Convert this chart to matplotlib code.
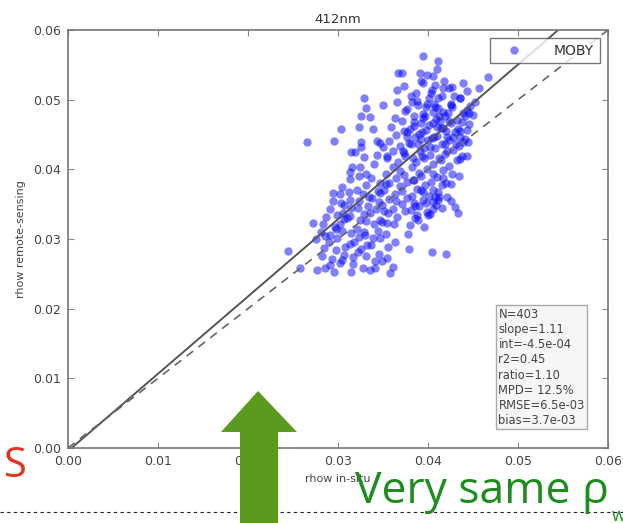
import matplotlib.pyplot as plt
from matplotlib.lines import Line2D
from matplotlib.patches import Polygon

core_pts = [
    (0.0373, 0.0519), (0.0387, 0.0509), (0.0394, 0.0524), (0.0404, 0.0514), (0.0411, 0.0503), (0.0423, 0.0517), (0.0429, 0.0506), (0.0443, 0.0513),
    (0.0366, 0.0497), (0.0381, 0.0505), (0.0389, 0.0492), (0.0401, 0.0502), (0.0408, 0.0489), (0.0416, 0.0506), (0.0425, 0.0494), (0.0436, 0.0503), (0.0447, 0.0491),
    (0.0374, 0.0484), (0.0382, 0.0497), (0.0394, 0.0479), (0.0399, 0.0494), (0.0411, 0.0488), (0.0419, 0.0477), (0.0427, 0.0489), (0.0439, 0.0481),
    (0.0363, 0.0473), (0.0377, 0.0486), (0.0385, 0.0468), (0.0397, 0.0476), (0.0405, 0.0482), (0.0413, 0.0469), (0.0422, 0.0481), (0.0432, 0.0471), (0.0441, 0.0477),
    (0.0359, 0.0461), (0.0371, 0.0470), (0.0380, 0.0458), (0.0392, 0.0466), (0.0398, 0.0457), (0.0409, 0.0472), (0.0417, 0.0460), (0.0425, 0.0467), (0.0436, 0.0455), (0.0446, 0.0465),
    (0.0365, 0.0449), (0.0373, 0.0455), (0.0386, 0.0446), (0.0393, 0.0453), (0.0404, 0.0445), (0.0410, 0.0461), (0.0421, 0.0447), (0.0430, 0.0453), (0.0441, 0.0444),
    (0.0357, 0.0440), (0.0369, 0.0433), (0.0377, 0.0446), (0.0389, 0.0437), (0.0396, 0.0431), (0.0407, 0.0446), (0.0415, 0.0436), (0.0423, 0.0442), (0.0434, 0.0433), (0.0444, 0.0439),
    (0.0361, 0.0427), (0.0373, 0.0424), (0.0381, 0.0436), (0.0391, 0.0426), (0.0402, 0.0420), (0.0408, 0.0431), (0.0419, 0.0422), (0.0428, 0.0428), (0.0438, 0.0419),
    (0.0355, 0.0416), (0.0367, 0.0410), (0.0375, 0.0419), (0.0387, 0.0411), (0.0396, 0.0417), (0.0405, 0.0408), (0.0414, 0.0414), (0.0423, 0.0405), (0.0432, 0.0413),
    (0.0361, 0.0403), (0.0369, 0.0398), (0.0382, 0.0404), (0.0390, 0.0395), (0.0399, 0.0401), (0.0406, 0.0393), (0.0417, 0.0399), (0.0427, 0.0394),
    (0.0353, 0.0394), (0.0365, 0.0388), (0.0373, 0.0392), (0.0385, 0.0384), (0.0392, 0.0390), (0.0403, 0.0382), (0.0410, 0.0389), (0.0420, 0.0381), (0.0434, 0.0391),
    (0.0357, 0.0381), (0.0369, 0.0376), (0.0377, 0.0382), (0.0388, 0.0372), (0.0397, 0.0378), (0.0406, 0.0371), (0.0416, 0.0377), (0.0426, 0.0379),
    (0.0351, 0.0371), (0.0363, 0.0365), (0.0371, 0.0369), (0.0382, 0.0362), (0.0392, 0.0371), (0.0401, 0.0362), (0.0411, 0.0367), (0.0421, 0.0361),
    (0.0357, 0.0358), (0.0365, 0.0354), (0.0377, 0.0359), (0.0384, 0.0351), (0.0395, 0.0356), (0.0405, 0.0353), (0.0412, 0.0360), (0.0425, 0.0355),
    (0.0349, 0.0349), (0.0361, 0.0343), (0.0371, 0.0350), (0.0381, 0.0341), (0.0390, 0.0347), (0.0399, 0.0339), (0.0409, 0.0349),
    (0.0356, 0.0338), (0.0366, 0.0331), (0.0375, 0.0340), (0.0386, 0.0330), (0.0402, 0.0336),
    (0.0347, 0.0327), (0.0362, 0.0322), (0.0380, 0.0320), (0.0396, 0.0317),
    (0.0388, 0.0498), (0.0398, 0.0489), (0.0407, 0.0494), (0.0417, 0.0482), (0.0426, 0.0493), (0.0385, 0.0462),
    (0.0395, 0.0474), (0.0405, 0.0466), (0.0414, 0.0459), (0.0423, 0.0469), (0.0433, 0.0458), (0.0379, 0.0438),
    (0.0390, 0.0451), (0.0400, 0.0442), (0.0410, 0.0448), (0.0419, 0.0437), (0.0428, 0.0446), (0.0383, 0.0416),
    (0.0393, 0.0419), (0.0402, 0.0432), (0.0412, 0.0417), (0.0421, 0.0426), (0.0436, 0.0415), (0.0372, 0.0427),
    (0.0377, 0.0453), (0.0403, 0.0509), (0.0392, 0.0527), (0.0418, 0.0527), (0.0436, 0.0502), (0.0445, 0.0481),
    (0.0384, 0.0476), (0.0392, 0.0443), (0.0412, 0.0477), (0.0420, 0.0455), (0.0401, 0.0463), (0.0431, 0.0437),
]

mid_pts = [
    (0.0316, 0.0403), (0.0331, 0.0393), (0.0340, 0.0407),
    (0.0313, 0.0386), (0.0323, 0.0391), (0.0337, 0.0387), (0.0347, 0.0381),
    (0.0304, 0.0375), (0.0321, 0.0371), (0.0331, 0.0378), (0.0345, 0.0369),
    (0.0302, 0.0365), (0.0312, 0.0367), (0.0328, 0.0364), (0.0338, 0.0359),
    (0.0295, 0.0354), (0.0307, 0.0349), (0.0323, 0.0355), (0.0333, 0.0347), (0.0346, 0.0353),
    (0.0291, 0.0343), (0.0306, 0.0338), (0.0315, 0.0345), (0.0329, 0.0336), (0.0342, 0.0343),
    (0.0287, 0.0332), (0.0299, 0.0335), (0.0313, 0.0333), (0.0324, 0.0327), (0.0336, 0.0337), (0.0349, 0.0324),
    (0.0283, 0.0321), (0.0297, 0.0317), (0.0307, 0.0329), (0.0321, 0.0315), (0.0331, 0.0326), (0.0345, 0.0312), (0.0355, 0.0323),
    (0.0281, 0.0310), (0.0291, 0.0306), (0.0305, 0.0312), (0.0315, 0.0309), (0.0329, 0.0310), (0.0339, 0.0302), (0.0353, 0.0307),
    (0.0276, 0.0300), (0.0290, 0.0296), (0.0299, 0.0301), (0.0313, 0.0293), (0.0323, 0.0303), (0.0337, 0.0291), (0.0347, 0.0301), (0.0363, 0.0295),
    (0.0284, 0.0287), (0.0298, 0.0284), (0.0308, 0.0289), (0.0322, 0.0281), (0.0332, 0.0291), (0.0346, 0.0279), (0.0356, 0.0289),
    (0.0282, 0.0276), (0.0293, 0.0271), (0.0307, 0.0277), (0.0317, 0.0274), (0.0331, 0.0275), (0.0341, 0.0268), (0.0355, 0.0273),
    (0.0291, 0.0263), (0.0302, 0.0265), (0.0317, 0.0264), (0.0328, 0.0259), (0.0349, 0.0268),
    (0.0296, 0.0253), (0.0314, 0.0252), (0.0336, 0.0256),
    (0.0310, 0.0330), (0.0322, 0.0344), (0.0334, 0.0360), (0.0318, 0.0296), (0.0330, 0.0306), (0.0302, 0.0322),
    (0.0326, 0.0285), (0.0340, 0.0322), (0.0313, 0.0356), (0.0286, 0.0305), (0.0298, 0.0314), (0.0351, 0.0340),
    (0.0347, 0.0366), (0.0353, 0.0379),
]

edge_pts = [
    (0.0367, 0.0539), (0.0366, 0.0514), (0.0329, 0.0502), (0.0331, 0.0488), (0.0350, 0.0492), (0.0326, 0.0476),
    (0.0336, 0.0475), (0.0303, 0.0458), (0.0323, 0.0461), (0.0339, 0.0458), (0.0266, 0.0439), (0.0296, 0.0440),
    (0.0326, 0.0439), (0.0326, 0.0432), (0.0343, 0.0440), (0.0347, 0.0438), (0.0350, 0.0432), (0.0314, 0.0425),
    (0.0319, 0.0425), (0.0329, 0.0418), (0.0343, 0.0420), (0.0354, 0.0419),
    (0.0394, 0.0562), (0.0411, 0.0555), (0.0410, 0.0544), (0.0371, 0.0539), (0.0391, 0.0539), (0.0399, 0.0535),
    (0.0406, 0.0534), (0.0467, 0.0532), (0.0408, 0.0521), (0.0417, 0.0517), (0.0427, 0.0518), (0.0439, 0.0524),
    (0.0457, 0.0517), (0.0452, 0.0496), (0.0443, 0.0485), (0.0450, 0.0478), (0.0438, 0.0468), (0.0443, 0.0456),
    (0.0436, 0.0446), (0.0439, 0.0439), (0.0443, 0.0419),
    (0.0313, 0.0396), (0.0324, 0.0403), (0.0294, 0.0366), (0.0303, 0.0352), (0.0272, 0.0323), (0.0244, 0.0283),
    (0.0258, 0.0258), (0.0277, 0.0255), (0.0286, 0.0258), (0.0304, 0.0270), (0.0341, 0.0258), (0.0361, 0.0260),
    (0.0358, 0.0251),
    (0.0386, 0.0347), (0.0398, 0.0352), (0.0406, 0.0343), (0.0416, 0.0344), (0.0430, 0.0346), (0.0433, 0.0337),
    (0.0388, 0.0334), (0.0389, 0.0327), (0.0400, 0.0334), (0.0378, 0.0307), (0.0379, 0.0286), (0.0404, 0.0281),
    (0.0420, 0.0278), (0.0408, 0.0360), (0.0411, 0.0356), (0.0383, 0.0385), (0.0394, 0.0367), (0.0417, 0.0387),
]

all_pts = core_pts + mid_pts + edge_pts
rho_insitu = [p[0] for p in all_pts]
rho_rs = [p[1] for p in all_pts]

slope, intercept = 1.11, -4.5e-4
stats_lines = ['N=403', 'slope=1.11', 'int=-4.5e-04', 'r2=0.45', 'ratio=1.10',
               'MPD= 12.5%', 'RMSE=6.5e-03', 'bias=3.7e-03']
ticks = [0.0, 0.01, 0.02, 0.03, 0.04, 0.05, 0.06]

fig = plt.figure(figsize=(6.23, 5.23), dpi=100)
ax = fig.add_axes([0.109, 0.1434, 0.867, 0.7992])

ax.plot(rho_insitu, rho_rs, 'o', color='blue', alpha=0.5, ms=6, mew=0, label='MOBY')

# линия регрессии и 1:1
lx = [0.0, 0.06]
ax.plot(lx, [slope * v + intercept for v in lx], '-', color='#555555', lw=1.4)
ax.plot(lx, lx, '--', color='#666666', lw=1.2, dashes=(5, 4))

ax.set_xlim(0, 0.06)
ax.set_ylim(0, 0.06)
ax.set_xticks(ticks)
ax.set_yticks(ticks)
ax.xaxis.set_major_formatter(plt.FormatStrFormatter('%.2f'))
ax.yaxis.set_major_formatter(plt.FormatStrFormatter('%.2f'))
ax.tick_params(direction='in', top=True, right=True, length=4, color='#888888',
               labelsize=9, labelcolor='#444444', pad=5)
for s in ax.spines.values():
    s.set_color('#777777')
    s.set_linewidth(1.2)

ax.set_title('412nm', fontsize=9.5, color='#333333', pad=5)
ax.set_xlabel('rhow in-situ', fontsize=8, color='#444444', labelpad=4)
ax.set_ylabel('rhow remote-sensing', fontsize=8, color='#444444', labelpad=5)

ax.legend(loc='upper right', numpoints=1, fontsize=10, frameon=True, fancybox=False,
          edgecolor='#555555', borderaxespad=0.6, handlelength=2.6, handletextpad=1.6,
          labelcolor='#333333', borderpad=0.4)

ax.text(0.797, 0.05, '\n'.join(stats_lines), transform=ax.transAxes, ha='left', va='bottom',
        fontsize=8.3, color='#444444', linespacing=1.22,
        bbox=dict(boxstyle='square,pad=0.2', fc='#f6f6f6', ec='#aaaaaa'))

# элементы слайда поверх графика
W, H = 623.0, 523.0
fig.add_artist(Line2D([0, 1], [1 - 512 / H, 1 - 512 / H], transform=fig.transFigure,
                      color='#222222', lw=0.8, ls=(0, (3, 3))))
arrow = [(258, 391), (221, 432), (240, 432), (240, 523), (278, 523), (278, 432), (297, 432)]
fig.add_artist(Polygon([(x / W, 1 - y / H) for x, y in arrow], closed=True,
                       transform=fig.transFigure, fc='#5a9a1e', ec='none', zorder=5))
fig.text(4 / W, 1 - 477 / H, 'S', color='#e8321e', fontsize=30, family='Open Sans', va='baseline')
fig.text(355 / W, 1 - 503 / H, 'Very same \u03c1', color='#1e8c1e', fontsize=32,
         family='Open Sans', va='baseline', zorder=6)
fig.text(612 / W, 1 - 521 / H, 'w', color='#1e8c1e', fontsize=13, family='Open Sans',
         va='baseline', zorder=6)

fig.savefig('out.png', dpi=100)
